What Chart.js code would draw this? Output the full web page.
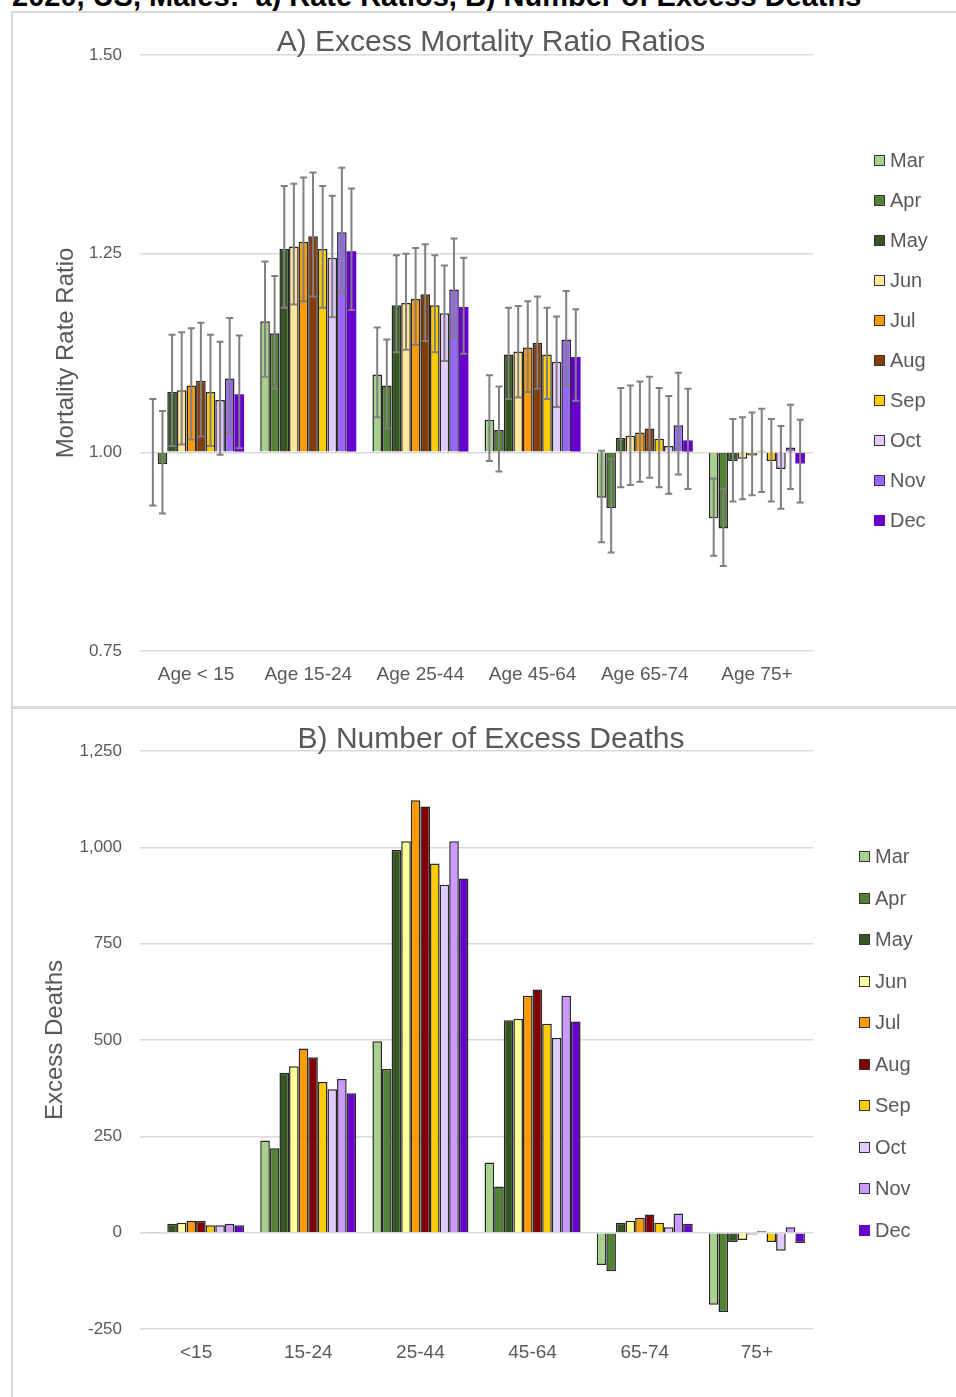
<!DOCTYPE html>
<html>
<head>
<meta charset="utf-8">
<script src="https://cdn.jsdelivr.net/npm/chart.js@4.4.1/dist/chart.umd.min.js"></script>
<style>
  body { margin: 0; width: 956px; height: 1397px; position: relative; overflow: hidden; background: #fff;
         font-family: "Liberation Sans", Arial, sans-serif; }
  #header { position: absolute; left: 12px; top: -18px; font-weight: bold; font-size: 29px; line-height: 29px;
            white-space: nowrap; color: #000; }
  .frame { position: absolute; left: 11px; width: 945px; border-left: 2px solid #d9d9d9; border-top: 2px solid #d9d9d9;
           box-sizing: border-box; }
  #frameA { top: 11px; height: 696px; }
  #frameB { top: 706px; height: 691px; border-top-width: 3px; }
  .wrap { position: absolute; left: 0; width: 956px; }
  #wrapA { top: 0; height: 707px; }
  #wrapB { top: 707px; height: 690px; }
  .title { position: absolute; color: #595959; font-size: 30px; line-height: 30px; white-space: nowrap;
           transform: translateX(-50%); }
  .legend { position: absolute; color: #595959; font-size: 20px; }
  .legend .item { display: flex; align-items: center; }
  .legend .sw { width: 9px; height: 9px; border: 1.5px solid #333; margin-right: 5px; }
</style>
</head>
<body>
<div id="header">2020, US, Males:&nbsp; a) Rate Ratios, B) Number of Excess Deaths</div>
<div class="frame" id="frameA"></div>
<div class="frame" id="frameB"></div>
<div class="wrap" id="wrapA"><canvas id="ratioChart"></canvas></div>
<div class="wrap" id="wrapB"><canvas id="deathsChart"></canvas></div>
<div class="title" style="left:491px; top:26px;">A) Excess Mortality Ratio Ratios</div>
<div class="title" style="left:491px; top:723px;">B) Number of Excess Deaths</div>
<div class="legend" id="legendA" style="left:874px; top:140px;"></div>
<div class="legend" id="legendB" style="left:859px; top:836px;"></div>

<script>
// カテゴリ
const months = ['Mar', 'Apr', 'May', 'Jun', 'Jul', 'Aug', 'Sep', 'Oct', 'Nov', 'Dec'];
const ageGroupsA = ['Age < 15', 'Age 15-24', 'Age 25-44', 'Age 45-64', 'Age 65-74', 'Age 75+'];
const ageGroupsB = ['<15', '15-24', '25-44', '45-64', '65-74', '75+'];

// A) 率比（行 = 月、列 = 年齢層）
const rateRatio = [
  [1.000, 1.165, 1.098, 1.041, 0.943, 0.917],
  [0.985, 1.150, 1.084, 1.028, 0.930, 0.904],
  [1.076, 1.256, 1.185, 1.123, 1.018, 0.989],
  [1.078, 1.259, 1.188, 1.127, 1.021, 0.992],
  [1.084, 1.265, 1.193, 1.132, 1.025, 0.996],
  [1.090, 1.272, 1.199, 1.138, 1.030, 1.002],
  [1.076, 1.256, 1.185, 1.123, 1.017, 0.989],
  [1.066, 1.245, 1.175, 1.114, 1.008, 0.979],
  [1.093, 1.277, 1.205, 1.142, 1.034, 1.006],
  [1.073, 1.253, 1.183, 1.120, 1.015, 0.986]
];
const ciLower = [
  [0.933, 1.095, 1.044, 0.989, 0.887, 0.870],
  [0.923, 1.080, 1.030, 0.976, 0.874, 0.857],
  [1.008, 1.182, 1.126, 1.067, 0.956, 0.938],
  [1.010, 1.186, 1.129, 1.069, 0.959, 0.941],
  [1.016, 1.190, 1.135, 1.076, 0.963, 0.946],
  [1.020, 1.196, 1.140, 1.080, 0.968, 0.950],
  [1.008, 1.182, 1.126, 1.067, 0.956, 0.938],
  [0.997, 1.170, 1.115, 1.057, 0.948, 0.929],
  [1.024, 1.201, 1.145, 1.084, 0.972, 0.954],
  [1.005, 1.179, 1.124, 1.065, 0.954, 0.937]
];
const ciUpper = [
  [1.067, 1.240, 1.157, 1.097, 1.002, 0.967],
  [1.052, 1.222, 1.142, 1.083, 0.992, 0.954],
  [1.148, 1.335, 1.248, 1.182, 1.081, 1.042],
  [1.151, 1.338, 1.250, 1.184, 1.084, 1.044],
  [1.156, 1.346, 1.257, 1.190, 1.089, 1.050],
  [1.163, 1.352, 1.262, 1.196, 1.095, 1.055],
  [1.148, 1.335, 1.248, 1.182, 1.081, 1.042],
  [1.139, 1.323, 1.235, 1.171, 1.071, 1.033],
  [1.169, 1.358, 1.269, 1.203, 1.100, 1.060],
  [1.147, 1.332, 1.245, 1.180, 1.080, 1.041]
];

// B) 超過死亡数
const excessDeaths = [
  [1, 239, 497, 182, -84, -187],
  [-3, 219, 425, 120, -100, -206],
  [23, 415, 993, 551, 26, -24],
  [26, 432, 1016, 555, 31, -19],
  [30, 478, 1122, 615, 39, -5],
  [30, 455, 1106, 631, 47, 4],
  [19, 391, 958, 542, 26, -24],
  [19, 372, 903, 506, 14, -47],
  [23, 399, 1016, 615, 50, 14],
  [19, 362, 919, 548, 23, -27]
];

const coloursA = ['#a9d18e', '#548235', '#375623', '#ffe699', '#ff9900', '#843c0c', '#ffcc00', '#e2ccff', '#9966ff', '#6600cc'];
const coloursB = ['#a9d18e', '#548235', '#375623', '#ffff99', '#ff9900', '#800000', '#ffcc00', '#e2ccff', '#cc99ff', '#6600cc'];

const textColour = '#595959';
const gridColour = '#d9d9d9';

/**
 * 信頼区間のエラーバー
 */
const errorBars = {
  id: 'errorBars',
  afterDatasetsDraw(chart) {
    const { ctx, scales: { y } } = chart;
    ctx.save();
    ctx.strokeStyle = '#808080';
    ctx.lineWidth = 2;
    chart.data.datasets.forEach((ds, di) => {
      const meta = chart.getDatasetMeta(di);
      meta.data.forEach((bar, i) => {
        const lo = y.getPixelForValue(ciLower[di][i]);
        const hi = y.getPixelForValue(ciUpper[di][i]);
        ctx.beginPath();
        ctx.moveTo(bar.x, lo);
        ctx.lineTo(bar.x, hi);
        ctx.moveTo(bar.x - 3.5, lo);
        ctx.lineTo(bar.x + 3.5, lo);
        ctx.moveTo(bar.x - 3.5, hi);
        ctx.lineTo(bar.x + 3.5, hi);
        ctx.stroke();
      });
    });
    ctx.restore();
  }
};

function buildLegend(id, colours, step) {
  const el = document.getElementById(id);
  el.innerHTML = months.map((m, i) => `
    <div class="item" style="height:${step}px">
      <span class="sw" style="background:${colours[i]};${i === 9 ? 'border-color:' + colours[i] : ''}"></span>${m}
    </div>`).join('');
}

function axisX(height) {
  return {
    grid: { display: false, drawTicks: false },
    border: { display: false },
    ticks: { color: textColour, font: { size: 19 }, padding: 12 },
    afterFit: s => { s.height = height; }
  };
}

function axisY(min, max, fmt, title, titlePad) {
  return {
    min, max,
    ticks: { stepSize: 0.25 * (max - min) / 0.75 * (max - min > 1 ? 1 : 1), color: textColour,
             font: { size: 17 }, padding: 18, callback: fmt },
    grid: { color: gridColour, lineWidth: 1.5, drawTicks: false },
    border: { display: false },
    title: { display: true, text: title, color: textColour, font: { size: 24 }, padding: { top: titlePad } },
    afterFit: s => { s.width = 140; }
  };
}

document.addEventListener('DOMContentLoaded', () => {
  Chart.defaults.font.family = '"Liberation Sans", Arial, sans-serif';
  Chart.defaults.animation = false;

  const yA = axisY(0.75, 1.5, v => v.toFixed(2), 'Mortality Rate Ratio', 52);
  yA.ticks.stepSize = 0.25;

  new Chart(document.getElementById('ratioChart'), {
    type: 'bar',
    data: {
      labels: ageGroupsA,
      datasets: months.map((m, i) => ({
        label: m,
        data: rateRatio[i],
        base: 1,
        backgroundColor: coloursA[i],
        borderColor: '#262626',
        borderWidth: i === 9 ? 0 : 1.5,
        categoryPercentage: 0.856,
        barPercentage: 1
      }))
    },
    options: {
      responsive: true,
      maintainAspectRatio: false,
      layout: { padding: { top: 55, right: 143, left: 0, bottom: 0 } },
      plugins: { legend: { display: false }, tooltip: { enabled: false } },
      scales: { x: axisX(56), y: yA }
    },
    plugins: [errorBars]
  });

  const yB = axisY(-250, 1250, v => v.toLocaleString('en-US'), 'Excess Deaths', 41);
  yB.ticks.stepSize = 250;

  new Chart(document.getElementById('deathsChart'), {
    type: 'bar',
    data: {
      labels: ageGroupsB,
      datasets: months.map((m, i) => ({
        label: m,
        data: excessDeaths[i],
        backgroundColor: coloursB[i],
        borderColor: '#262626',
        borderWidth: 1.5,
        categoryPercentage: 0.856,
        barPercentage: 1
      }))
    },
    options: {
      responsive: true,
      maintainAspectRatio: false,
      layout: { padding: { top: 44, right: 143, left: 0, bottom: 0 } },
      plugins: { legend: { display: false }, tooltip: { enabled: false } },
      scales: { x: axisX(68), y: yB }
    }
  });

  buildLegend('legendA', coloursA, 40);
  buildLegend('legendB', coloursB, 41.5);
});
</script>
</body>
</html>
